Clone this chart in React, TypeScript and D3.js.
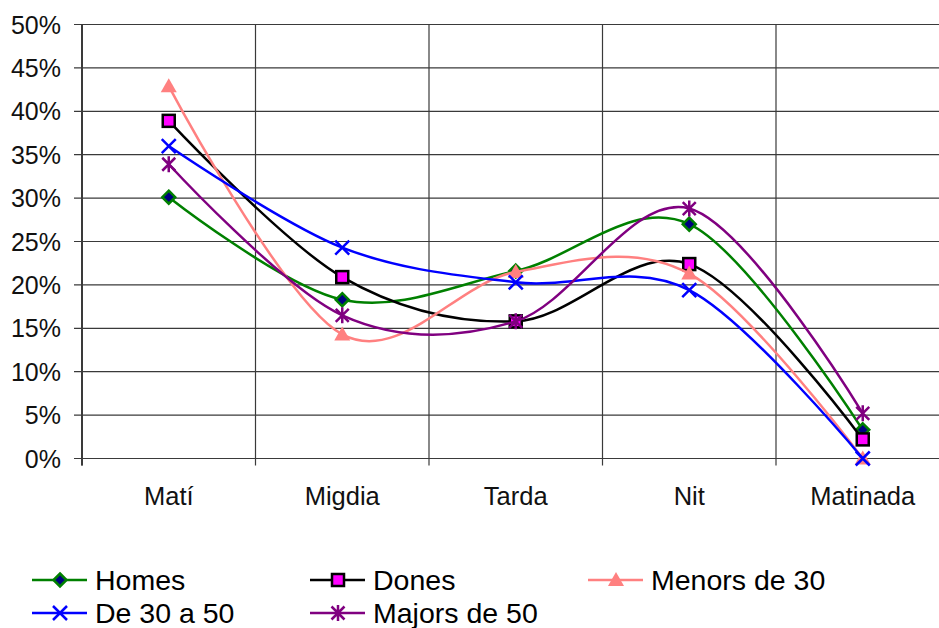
import React from "react";
import * as d3 from "d3";

const width = 939;
const height = 628;
const margin = { top: 24.5, right: -10.5, bottom: 169.5, left: 82 };

const categories = ["Matí", "Migdia", "Tarda", "Nit", "Matinada"];
const yTicks = [0, 5, 10, 15, 20, 25, 30, 35, 40, 45, 50];

const homes = [30.1, 18.3, 21.6, 27.0, 3.3];
const dones = [38.9, 20.9, 15.8, 22.4, 2.2];
const menors30 = [42.9, 14.3, 21.5, 21.3, 0];
const de30a50 = [36.0, 24.3, 20.3, 19.4, 0];
const majors50 = [33.9, 16.5, 15.8, 28.8, 5.2];

const series = [
  { name: "Homes", values: homes, color: "#008000", marker: "diamond" },
  { name: "Dones", values: dones, color: "#000000", marker: "square" },
  { name: "Menors de 30", values: menors30, color: "#FF8080", marker: "triangle" },
  { name: "De 30 a 50", values: de30a50, color: "#0000FF", marker: "x" },
  { name: "Majors de 50", values: majors50, color: "#800080", marker: "star" },
];

const font = "'Liberation Sans', Arial, sans-serif";

function Marker({ type, x, y, color }: { type: string; x: number; y: number; color: string }) {
  if (type === "diamond") {
    const r = 6.5;
    return (
      <path
        d={`M${x},${y - r}L${x + r},${y}L${x},${y + r}L${x - r},${y}Z`}
        fill="#000080"
        stroke={color}
        strokeWidth={2.5}
      />
    );
  }
  if (type === "square") {
    const s = 6;
    return <rect x={x - s} y={y - s} width={s * 2} height={s * 2} fill="#FF00FF" stroke="#000" strokeWidth={2.5} />;
  }
  if (type === "triangle") {
    const r = 8;
    return <path d={`M${x},${y - r}L${x + r},${y + r * 0.75}L${x - r},${y + r * 0.75}Z`} fill={color} />;
  }
  if (type === "x") {
    const r = 7;
    return (
      <path
        d={`M${x - r},${y - r}L${x + r},${y + r}M${x - r},${y + r}L${x + r},${y - r}`}
        stroke={color}
        strokeWidth={2.5}
      />
    );
  }
  // asterisk
  const r = 6.5;
  return (
    <path
      d={`M${x - r},${y - r}L${x + r},${y + r}M${x - r},${y + r}L${x + r},${y - r}M${x},${y - r - 1.5}L${x},${y + r + 1.5}`}
      stroke={color}
      strokeWidth={2.5}
    />
  );
}

export default function App() {
  const x = d3
    .scaleBand<string>()
    .domain(categories)
    .range([margin.left, width - margin.right])
    .padding(0);
  const y = d3
    .scaleLinear()
    .domain([0, 50])
    .range([height - margin.bottom, margin.top]);
  const cx = (c: string) => (x(c) as number) + x.bandwidth() / 2;

  const line = d3
    .line<number>()
    .x((_, i) => cx(categories[i]))
    .y((d) => y(d))
    .curve(d3.curveCardinal.tension(0));

  const boundaries = categories.map((c) => x(c) as number);

  const legendCols = [32, 310, 588];
  const legendRows = [580, 613];

  return (
    <svg
      width={width}
      height={height}
      style={{ position: "absolute", left: 0, top: 0, background: "#fff" }}
      fontFamily={font}
    >
      {/* grid */}
      <g stroke="#3a3a3a" strokeWidth={1.2}>
        {yTicks.map((t) => (
          <line key={t} x1={margin.left - 8} x2={width} y1={y(t)} y2={y(t)} />
        ))}
        {boundaries.map((b, i) => (
          <line key={i} x1={b} x2={b} y1={y(50)} y2={y(0) + 7} />
        ))}
        <line x1={margin.left} x2={margin.left} y1={y(50)} y2={y(0) + 7} strokeWidth={2} />
      </g>

      {/* y labels */}
      <g fontSize={25} textAnchor="end" fill="#111">
        {yTicks.map((t) => (
          <text key={t} x={61} y={y(t)} dy="0.36em">
            {t}%
          </text>
        ))}
      </g>

      {/* x labels */}
      <g fontSize={25.5} textAnchor="middle" fill="#111">
        {categories.map((c) => (
          <text key={c} x={cx(c)} y={505}>
            {c}
          </text>
        ))}
      </g>

      {/* series */}
      {series.map((s) => (
        <g key={s.name}>
          <path d={line(s.values) || ""} fill="none" stroke={s.color} strokeWidth={2.5} />
          {s.values.map((v, i) => (
            <Marker key={i} type={s.marker} x={cx(categories[i])} y={y(v)} color={s.color} />
          ))}
        </g>
      ))}

      {/* legend */}
      <g fontSize={28.5} fill="#000">
        {series.map((s, i) => {
          const lx = legendCols[i % 3];
          const ly = legendRows[Math.floor(i / 3)];
          return (
            <g key={s.name}>
              <line x1={lx} x2={lx + 55} y1={ly} y2={ly} stroke={s.color} strokeWidth={2.5} />
              <Marker type={s.marker} x={lx + 28} y={ly} color={s.color} />
              <text x={lx + 63} y={ly} dy="0.36em">
                {s.name}
              </text>
            </g>
          );
        })}
      </g>
    </svg>
  );
}
